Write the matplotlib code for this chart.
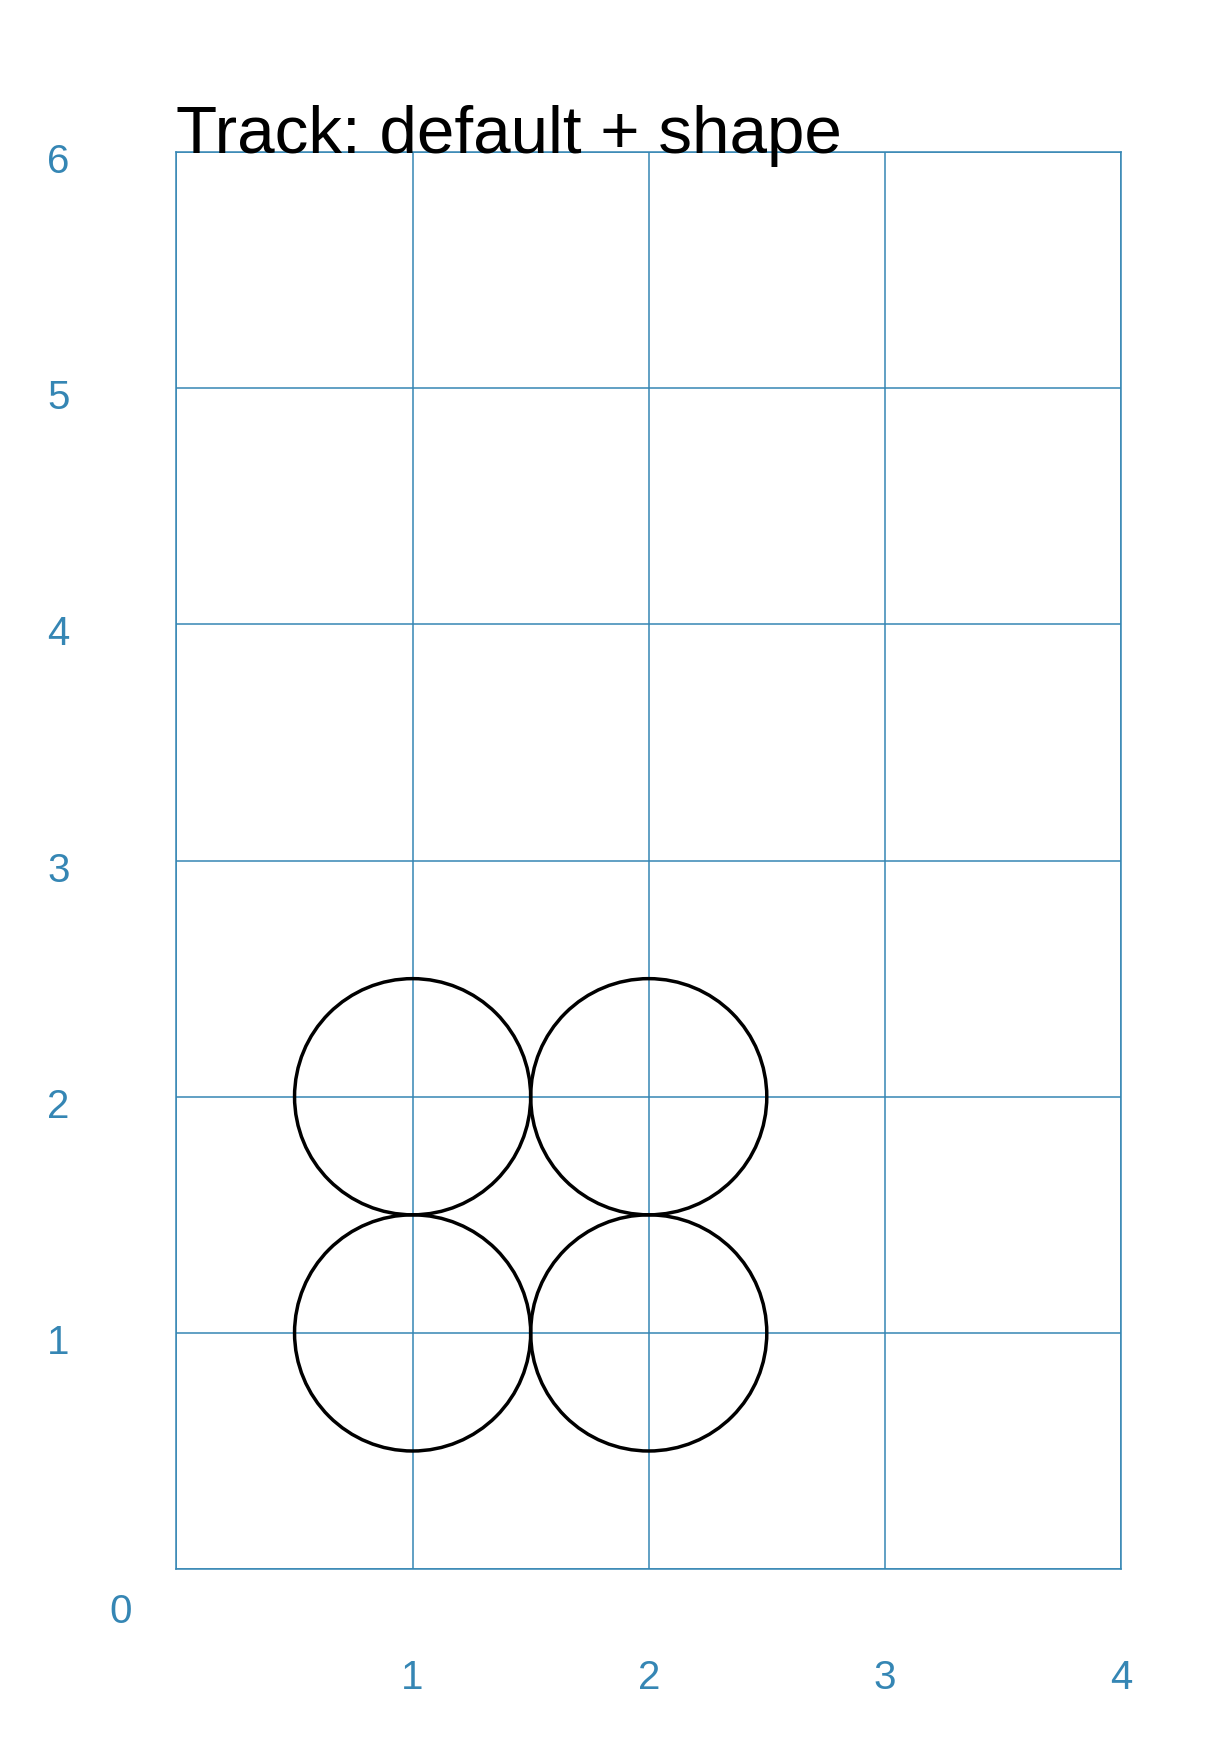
import matplotlib
matplotlib.use("Agg")
import matplotlib.pyplot as plt
import matplotlib.transforms as mtransforms
from matplotlib.patches import Circle

plt.rcParams['font.family'] = ['Liberation Sans', 'DejaVu Sans']

# Data
x = [1, 1, 2, 2]
y = [1, 2, 1, 2]
radius = 0.5
x_ticks = [0, 1, 2, 3, 4]
x_labels = ["", "1", "2", "3", "4"]
y_ticks = [0, 1, 2, 3, 4, 5, 6]
y_labels = ["", "1", "2", "3", "4", "5", "6"]
title = "Track: default + shape"

blue = "#3586b4"

fig = plt.figure(figsize=(12.29, 17.49), dpi=100)
ax = fig.add_axes([0.1436, 0.1023, 0.7685, 0.8102])

for xi, yi in zip(x, y):
    ax.add_patch(Circle((xi, yi), radius, fill=False, edgecolor="black", linewidth=2.5, zorder=3))

ax.set_xlim(0, 4)
ax.set_ylim(0, 6)
ax.set_xticks(x_ticks)
ax.set_xticklabels(x_labels)
ax.set_yticks(y_ticks)
ax.set_yticklabels(y_labels)
ax.grid(True, color=blue, linewidth=1.1)
ax.set_axisbelow(True)
for s in ax.spines.values():
    s.set_color(blue)
    s.set_linewidth(1.1)

ax.tick_params(axis="both", length=0, labelsize=29, labelcolor=blue)
ax.tick_params(axis="x", pad=64)
ax.tick_params(axis="y", pad=85)
for lab in ax.get_yticklabels():
    lab.set_horizontalalignment("center")
    lab.set_transform(lab.get_transform() + mtransforms.ScaledTranslation(0, -5 / 100, fig.dpi_scale_trans))

ax.annotate("0", xy=(0, 0), xytext=(-40, -30), textcoords="offset points",
            ha="center", va="center", fontsize=29, color=blue)

ax.text(0, 1, title, transform=ax.transAxes, ha="left", va="baseline", fontsize=48.5, color="black")

fig.savefig("out.png", dpi=100)
